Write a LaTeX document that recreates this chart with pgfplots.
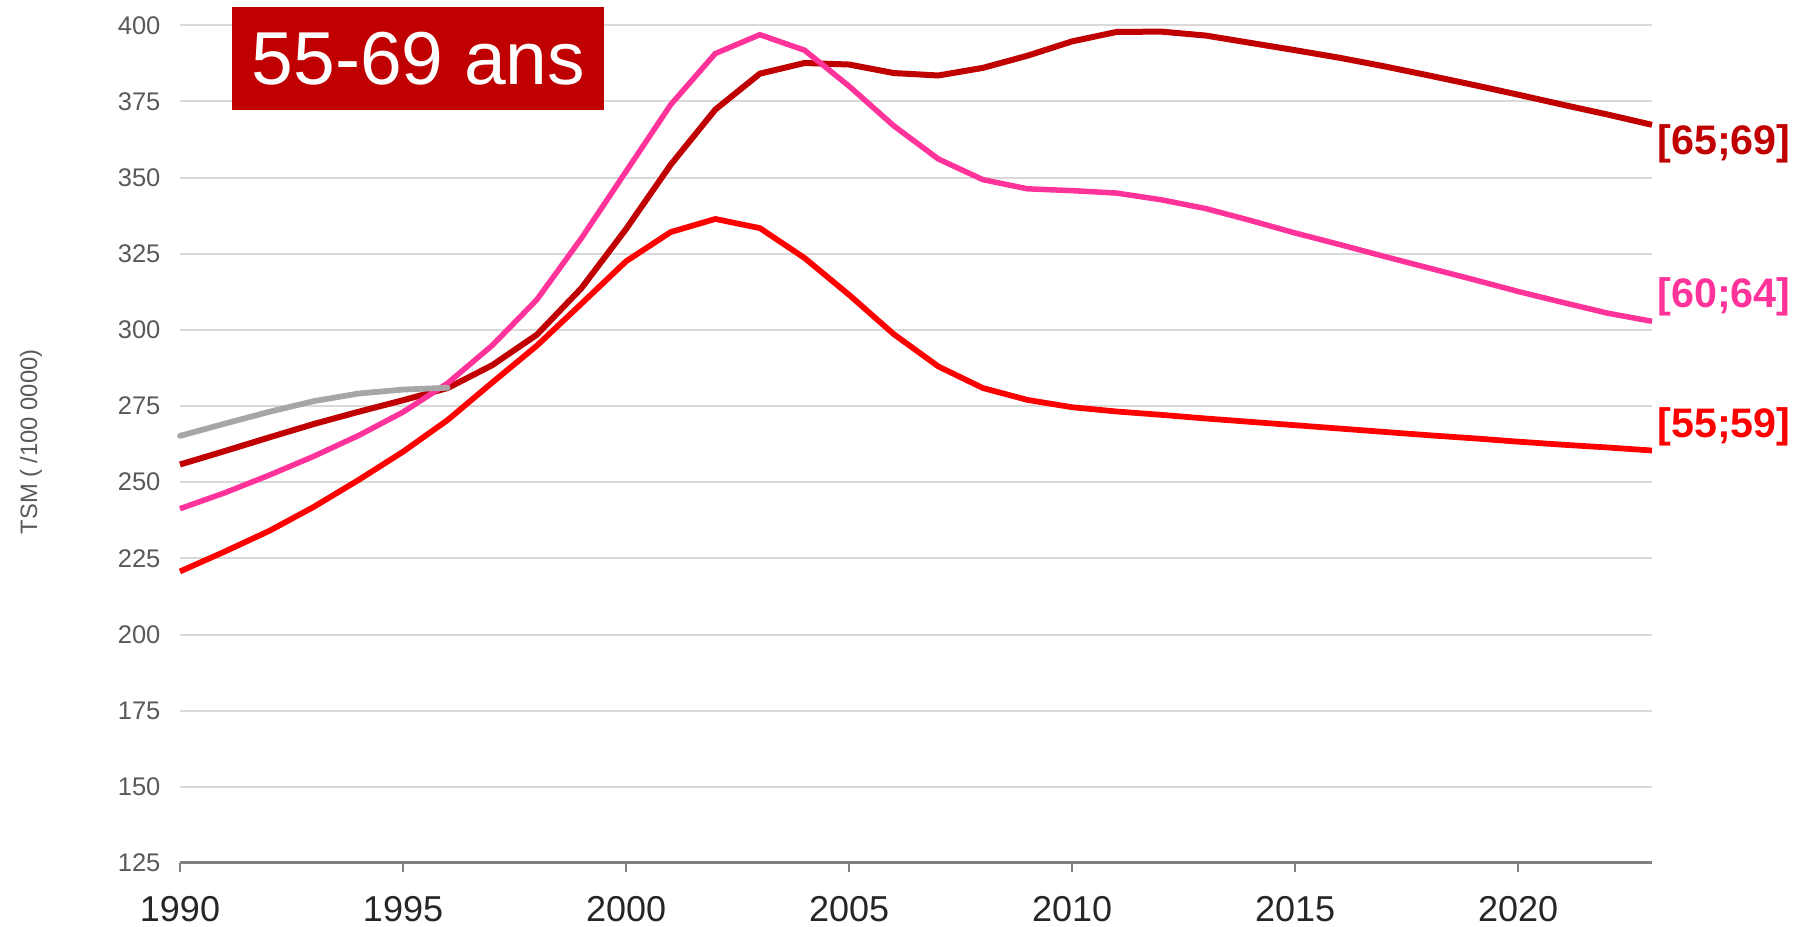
\documentclass[border=0pt]{standalone}
\usepackage{pgfplots}
\pgfplotsset{compat=1.18}
\usepackage{pgfplotstable}
\usepackage{fontspec}
\setmainfont{Liberation Sans}
\definecolor{dred}{HTML}{C00000}
\definecolor{pinkc}{HTML}{FF3399}
\definecolor{bred}{HTML}{FF0000}
\definecolor{lgray}{HTML}{A6A6A6}
\definecolor{gridgray}{HTML}{D9D9D9}
\definecolor{axisgray}{HTML}{808080}
\definecolor{tickgray}{HTML}{595959}
\definecolor{xlab}{HTML}{262626}

\pgfplotstableread{
year a6569 a6064 a5559
1990 255.8 241.3 220.7
1991 260.2 246.5 227.2
1992 264.7 252.3 234.0
1993 269.1 258.5 241.9
1994 273.1 265.3 250.7
1995 276.9 273.0 260.0
1996 280.9 282.5 270.4
1997 288.4 294.9 282.7
1998 298.4 309.9 294.8
1999 313.7 330.1 308.6
2000 333.1 352.0 322.5
2001 354.2 373.9 332.1
2002 372.3 390.7 336.4
2003 384.1 396.9 333.4
2004 387.6 391.8 323.6
2005 387.1 380.0 311.5
2006 384.3 367.0 298.6
2007 383.5 356.1 288.0
2008 386.0 349.3 280.9
2009 390.0 346.3 277.0
2010 394.7 345.7 274.6
2011 397.8 344.9 273.2
2012 397.9 342.7 272.1
2013 396.6 339.8 270.9
2014 394.2 335.9 269.8
2015 391.8 331.8 268.7
2016 389.3 328.0 267.6
2017 386.5 324.1 266.5
2018 383.5 320.3 265.4
2019 380.4 316.5 264.4
2020 377.2 312.6 263.3
2021 373.9 309.0 262.3
2022 370.7 305.5 261.4
2023 367.3 302.8 260.4
}\maindata

\pgfplotstableread{
year val
1990 265.2
1991 269.2
1992 273.1
1993 276.6
1994 279.1
1995 280.4
1996 281.0
}\graydata

\begin{document}
\begin{tikzpicture}
\begin{axis}[
  name=ax,
  scale only axis,
  width=588.8pt, height=335.1pt,
  xmin=1990, xmax=2023, ymin=125, ymax=400,
  xtick={1990,1995,...,2020},
  ytick={125,150,...,400},
  ymajorgrids,
  grid style={draw=gridgray, line width=0.8pt},
  separate axis lines,
  axis x line*=bottom,
  axis y line*=left,
  x axis line style={draw=axisgray, line width=1.2pt, -},
  y axis line style={draw=none},
  tick align=outside,
  xtick style={draw=axisgray, line width=0.6pt},
  ytick style={draw=none},
  major tick length=3.5pt,
  yticklabel style={font=\fontsize{10.2}{12}\selectfont, text=tickgray, anchor=east, xshift=-0.8pt},
  xticklabel style={font=\fontsize{14.4}{16}\selectfont, text=xlab, anchor=north, yshift=-6.3pt},
  /pgf/number format/assume math mode=true,
  /pgf/number format/1000 sep={},
  ylabel={TSM ( /100 0000)},
  ylabel style={at={(rel axis cs:-0.1012,0.5026)}, anchor=center, font=\fontsize{9.5}{11}\selectfont, text=tickgray},
  clip=false,
]
\addplot[dred, line width=2.4pt] table[x=year, y=a6569] {\maindata};
\addplot[pinkc, line width=2.2pt] table[x=year, y=a6064] {\maindata};
\addplot[bred, line width=2.3pt] table[x=year, y=a5559] {\maindata};
\addplot[lgray, line width=2.3pt, line cap=round] table[x=year, y=val] {\graydata};

\node[anchor=west, text=dred, font=\bfseries\fontsize{16.5}{18}\selectfont, inner sep=0pt, xshift=2pt] at (axis cs:2023,361) {[65;69]};
\node[anchor=west, text=pinkc, font=\bfseries\fontsize{16.5}{18}\selectfont, inner sep=0pt, xshift=2pt] at (axis cs:2023,311) {[60;64]};
\node[anchor=west, text=bred, font=\bfseries\fontsize{16.5}{18}\selectfont, inner sep=0pt, xshift=2pt] at (axis cs:2023,268.3) {[55;59]};

\node[anchor=north west, fill=dred, text=white, minimum width=148.8pt, minimum height=41.2pt, inner sep=0pt, font=\fontsize{30}{35}\selectfont] at (rel axis cs:0.0353,1.0218) {55-69 ans};
\end{axis}
\pgfresetboundingbox
\path (ax.south west) ++(-72pt,-25.6pt) rectangle ++(720pt,370.8pt);
\end{tikzpicture}
\end{document}
